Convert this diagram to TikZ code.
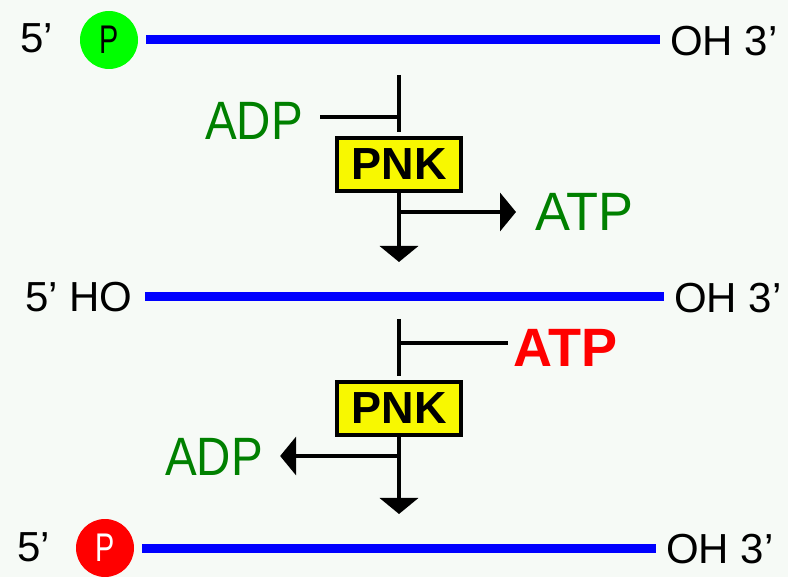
\documentclass[tikz,border=0pt]{standalone}
\usepackage{fontspec}
\setmainfont{Liberation Sans}
\newfontfamily\narrowfont[FakeStretch=0.88]{Liberation Sans}
\newfontfamily\atpfont[FakeStretch=0.97]{Liberation Sans}
\newfontfamily\pfont[FakeStretch=0.72]{Liberation Sans}
\usepackage{xcolor}
\usetikzlibrary{arrows.meta, positioning}
\definecolor{bgpaper}{RGB}{246,250,246}
\definecolor{strandblue}{RGB}{0,0,255}
\definecolor{dkgreen}{RGB}{0,128,0}
\definecolor{ltgreen}{RGB}{0,255,0}
\definecolor{pnkyellow}{RGB}{248,248,0}

\begin{document}
\begin{tikzpicture}[
    x=1pt, y=-1pt,
    endlabel/.style={anchor=west, inner sep=0pt, font=\fontsize{42}{46}\selectfont},
    nucl/.style={anchor=west, inner sep=0pt, font=\narrowfont\fontsize{54}{58}\selectfont, text=dkgreen},
    phos/.style={circle, minimum size=58pt, inner sep=0pt, font=\pfont\fontsize{40}{44}\selectfont},
    strand/.style={draw=strandblue, line width=9pt},
    enzyme/.style={
        rectangle, draw, line width=4pt, fill=pnkyellow,
        minimum width=124pt, minimum height=53pt, inner sep=0pt,
        font=\bfseries\fontsize{45}{48}\selectfont
    },
    wire/.style={line width=4pt},
    react/.style={wire, -{Triangle[width=38pt,length=16pt]}}
]
\fill[bgpaper] (0,0) rectangle (788,577);
\useasboundingbox (0,0) rectangle (788,577);

% Top strand: 5' phosphate
\node[endlabel] (five1) at (20,38) {5’};
\node[phos, fill=ltgreen, text=black] (p1) at (109,40) {P};
\node[endlabel] (oh1) at (670,41) {OH 3’};
\draw[strand, shorten <=8pt, shorten >=10pt] (p1.east) -- (p1.east -| oh1.west);

% First PNK step: dephosphorylation
\node[enzyme] (pnk1) at (399,164.5) {PNK};
\node[nucl] (adp1) at (205,121) {ADP};
\node[nucl, font=\atpfont\fontsize{54}{58}\selectfont] (atp1) at (535,212) {ATP};
\coordinate (top1)   at (399,75);
\coordinate (join1)  at (399,117);
\coordinate (split1) at (399,212);
\coordinate (tip1)   at (399,262);
\draw[wire, shorten >=4pt] (top1) -- (pnk1);
\draw[wire, shorten <=17pt] (adp1.east |- join1) -- (join1);
\draw[react] (pnk1.south) -- (tip1);
\draw[react] (split1) -- ([xshift=-19pt]split1 -| atp1.west);

% Middle strand: 5' hydroxyl
\node[endlabel] (five2) at (25,297) {5’ HO};
\node[endlabel] (oh2) at (674,298) {OH 3’};
\draw[strand, shorten <=12pt, shorten >=10pt] (five2.east) -- (five2.east -| oh2.west);

% Second PNK step: phosphorylation
\node[enzyme] (pnk2) at (399,408.5) {PNK};
\node[nucl, font=\bfseries\fontsize{54}{58}\selectfont, text=red] (atp2) at (513,347.5) {ATP};
\node[nucl] (adp2) at (165,456.5) {ADP};
\coordinate (top2)   at (399,319);
\coordinate (join2)  at (399,343);
\coordinate (split2) at (399,456);
\coordinate (tip2)   at (399,514);
\draw[wire, shorten >=4pt] (top2) -- (pnk2);
\draw[wire, shorten >=5pt] (join2) -- (join2 -| atp2.west);
\draw[react] (pnk2.south) -- (tip2);
\draw[react] (split2) -- ([xshift=17pt]split2 -| adp2.east);

% Bottom strand: 5' phosphate restored
\node[endlabel] (five3) at (17,547) {5’};
\node[phos, fill=red, text=white] (p3) at (105,548) {P};
\node[endlabel] (oh3) at (666,549) {OH 3’};
\draw[strand, shorten <=8pt, shorten >=10pt] (p3.east) -- (p3.east -| oh3.west);

\end{tikzpicture}
\end{document}
